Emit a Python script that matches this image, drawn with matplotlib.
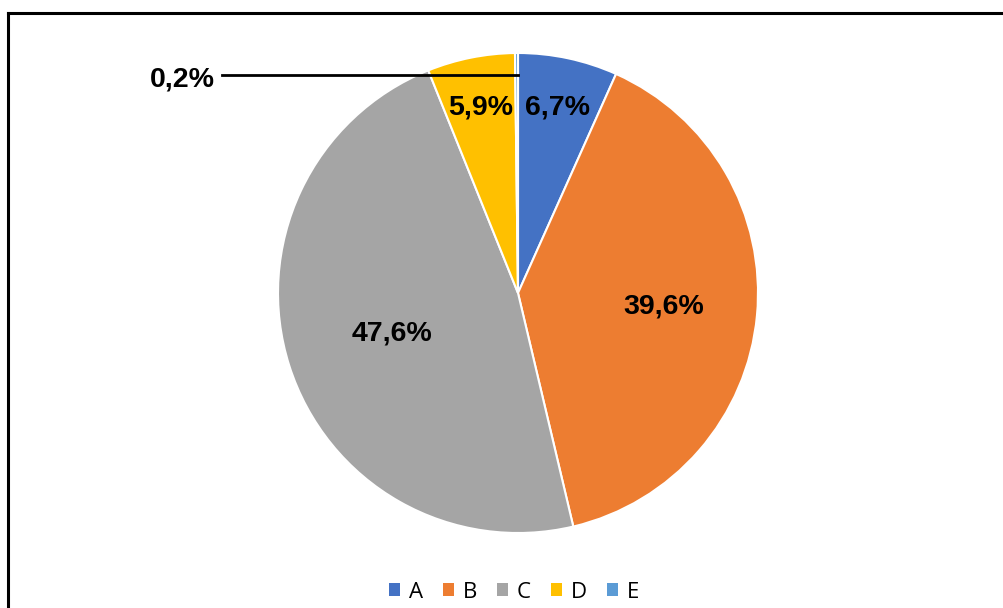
import matplotlib
matplotlib.use("Agg")
import matplotlib.pyplot as plt
from matplotlib.patches import Rectangle
from matplotlib.lines import Line2D
import numpy as np

categories = ["A", "B", "C", "D", "E"]
values = [6.7, 39.6, 47.6, 5.9, 0.2]
labels = ["6,7%", "39,6%", "47,6%", "5,9%", "0,2%"]
colors = ["#4472C4", "#ED7D31", "#A5A5A5", "#FFC000", "#5B9BD5"]
label_r = [0.79, 0.61, 0.55, 0.79]

W, H = 1004, 608
fig = plt.figure(figsize=(W / 100, H / 100), dpi=100)
fig.patch.set_facecolor("white")

ax = fig.add_axes([278 / W, (H - 533) / H, 480 / W, 480 / H])
wedges, _ = ax.pie(values, colors=colors, startangle=90, counterclock=False,
                   radius=1.0,
                   wedgeprops=dict(edgecolor="white", linewidth=1.5))
ax.set_xlim(-1, 1)
ax.set_ylim(-1, 1)
ax.set_aspect("equal")
ax.axis("off")

font = dict(family=["Liberation Sans", "DejaVu Sans"], weight="bold", size=20.5)
for i in range(4):
    w = wedges[i]
    mid = np.deg2rad((w.theta1 + w.theta2) / 2)
    ax.text(label_r[i] * np.cos(mid), label_r[i] * np.sin(mid), labels[i],
            ha="center", va="center", color="black", **font)

# leader line for the tiny slice E
y_e = 218 / 240
x_start = (222 - 518) / 240
ax.plot([x_start, 0.0], [y_e, y_e], color="black", lw=2, clip_on=False)
ax.text(x_start - 0.03, y_e - 0.02, labels[4], ha="right", va="center",
        color="black", clip_on=False, **font)

# legend
handles = [Rectangle((0, 0), 1, 1, facecolor=c, edgecolor="none") for c in colors]
leg = fig.legend(handles, categories, loc="center",
                 bbox_to_anchor=(514 / W, 1 - 592 / H), ncol=5, frameon=False,
                 handlelength=0.5, handleheight=0.5, handletextpad=0.4,
                 columnspacing=0.9,
                 prop=dict(family=["Open Sans", "DejaVu Sans"], size=16))

# border (left and top)
fig.add_artist(Line2D([8 / W, 8 / W], [0, 1 - 13 / H], transform=fig.transFigure,
                      color="black", lw=2.2))
fig.add_artist(Line2D([8 / W, 1.0], [1 - 13 / H, 1 - 13 / H], transform=fig.transFigure,
                      color="black", lw=2.2))

fig.savefig("out.png", dpi=100, facecolor="white")
